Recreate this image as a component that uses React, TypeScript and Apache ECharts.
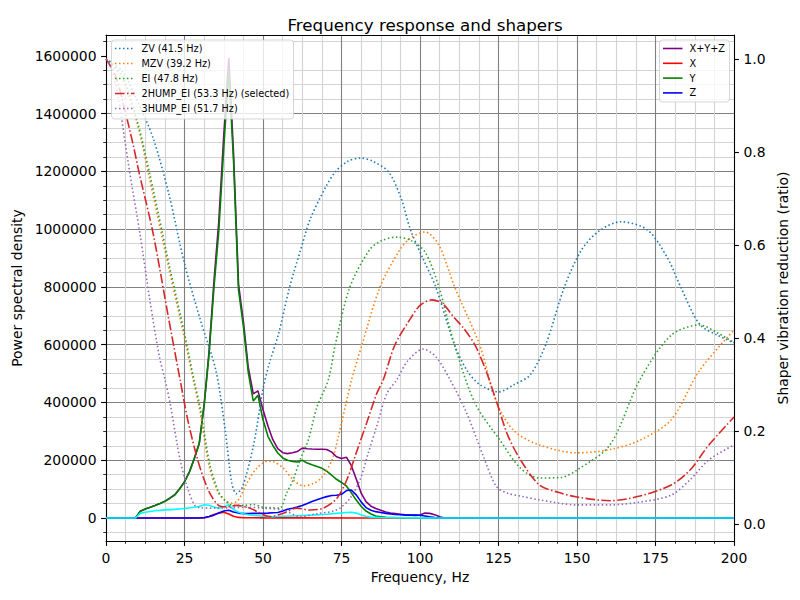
import { useEffect, useRef } from 'react';
import * as echarts from 'echarts';

type Pt = [number, number];

// Power spectral density per axis (frequency Hz, PSD)
const psdSum: Pt[] = [[0,0],[9.4,0],[10.9,23500],[12.5,31500],[14.1,37500],[15.6,43500],[17.2,50500],[18.8,58500],[20.3,68500],[21.9,80500],[23.4,100500],[25,125500],[26.6,160500],[28.1,205500],[29.7,258500],[31.3,397000],[32.8,574000],[34.4,822000],[35.9,1024000],[37.5,1324000],[39.1,1592600],[40.6,1267000],[42.2,810000],[43.8,676000],[45.3,522000],[46.9,430000],[48.4,440000],[50,375000],[51.6,318000],[53.1,272000],[54.7,240000],[56.3,226000],[57.8,223000],[59.4,226000],[60.9,230000],[62.5,242000],[64.1,240000],[65.6,239000],[67.2,238000],[68.8,238000],[70.3,237000],[71.9,228000],[73.4,212000],[75,206000],[76.6,210000],[78.1,182000],[79.7,135000],[81.3,85000],[82.8,57000],[84.4,41000],[85.9,33000],[87.5,27000],[89.1,21000],[90.6,17000],[92.2,15000],[93.8,13000],[95.3,11000],[96.9,10000],[98.4,9000],[100,10000],[101.6,17000],[103.1,16000],[104.7,11000],[106.3,4000],[107.8,0],[200,0]];
const psdX: Pt[] = [[0,0],[31.3,0],[32.8,4000],[34.4,12000],[35.9,17000],[37.5,20000],[39.1,14000],[40.6,6000],[42.2,2000],[43.8,1000],[50,500],[60,300],[80,200],[100,0],[200,0]];
const psdY: Pt[] = [[0,0],[9.4,0],[10.9,23000],[12.5,31000],[14.1,37000],[15.6,43000],[17.2,50000],[18.8,58000],[20.3,68000],[21.9,80000],[23.4,100000],[25,125000],[26.6,160000],[28.1,205000],[29.7,258000],[31.3,395000],[32.8,565000],[34.4,800000],[35.9,990000],[37.5,1280000],[39.1,1550000],[40.6,1240000],[42.2,790000],[43.8,660000],[45.3,505000],[46.9,405000],[48.4,425000],[50,340000],[51.6,282000],[53.1,252000],[54.7,225000],[56.3,208000],[57.8,200000],[59.4,196000],[60.9,194000],[62.5,200000],[64.1,190000],[65.6,184000],[67.2,178000],[68.8,172000],[70.3,162000],[71.9,148000],[73.4,134000],[75,123000],[76.6,110000],[78.1,88000],[79.7,62000],[81.3,40000],[82.8,24000],[84.4,14000],[85.9,7000],[87.5,4000],[89.1,2500],[92.2,1500],[100,800],[106.3,0],[200,0]];
const psdZ: Pt[] = [[0,0],[29.7,0],[31.3,2000],[32.8,5000],[34.4,10000],[35.9,17000],[37.5,24000],[39.1,27000],[40.6,21000],[42.2,17000],[43.8,15000],[45.3,15000],[46.9,16000],[48.4,16000],[50,16000],[51.6,17000],[53.1,18000],[54.7,19000],[56.3,24000],[57.8,30000],[59.4,34000],[60.9,38000],[62.5,43000],[64.1,50000],[65.6,57000],[67.2,63000],[68.8,69000],[70.3,74000],[71.9,78000],[73.4,79000],[75,82000],[76.6,95000],[78.1,97000],[79.7,80000],[81.3,55000],[82.8,36000],[84.4,27000],[85.9,22000],[87.5,19000],[89.1,16000],[90.6,14000],[92.2,12000],[93.8,11000],[95.3,10000],[96.9,10000],[98.4,10000],[100,9500],[101.6,7000],[103.1,4000],[104.7,1500],[106.3,0],[200,0]];
// PSD after the selected shaper
const psdShaped: Pt[] = [[0,0],[9.4,0],[10.9,16000],[12.5,20000],[15.6,25000],[18.8,28000],[21.9,30000],[25,33000],[28.1,37000],[29.7,40000],[31.3,46000],[32.8,44000],[34.4,38000],[35.9,34000],[37.5,38000],[39.1,46000],[40.6,30000],[42.2,20000],[43.8,15000],[45.3,11000],[46.9,9000],[48.4,8000],[50,6000],[51.6,4500],[53.1,4500],[56.3,6000],[60.9,8000],[65.6,10000],[70.3,13000],[73.4,16000],[76.6,19000],[78.1,20000],[79.7,17000],[81.3,10000],[82.8,6000],[84.4,3000],[87.5,1500],[92,800],[100,400],[106,0],[200,0]];

// Shaper vibration reduction ratios (frequency Hz, ratio)
const shaperZV: Pt[] = [[0,1.0],[5,0.975],[10,0.91],[15,0.83],[20,0.71],[25,0.56],[30,0.44],[35,0.33],[38,0.2],[40,0.09],[41.5,0.065],[43.5,0.08],[47,0.17],[50,0.29],[52,0.345],[55,0.41],[58.5,0.51],[62,0.59],[65,0.655],[70,0.725],[73,0.757],[77,0.78],[81,0.787],[85,0.78],[90,0.757],[94,0.7],[97,0.632],[101,0.57],[105,0.51],[111,0.385],[115,0.33],[119,0.3],[125,0.284],[130,0.3],[135,0.32],[140,0.385],[146,0.51],[151.5,0.59],[157,0.63],[164,0.65],[172.5,0.632],[179,0.57],[183,0.51],[189,0.43],[195,0.405],[200,0.39]];
const shaperMZV: Pt[] = [[0,1.0],[5,0.96],[10,0.86],[13.5,0.754],[17.6,0.625],[20,0.55],[25,0.4],[27.8,0.31],[30,0.24],[33,0.12],[35.8,0.067],[38,0.05],[40,0.045],[42,0.05],[44.8,0.087],[48,0.12],[51.5,0.135],[53.3,0.134],[56.5,0.12],[59.6,0.095],[62.8,0.082],[66,0.087],[68.7,0.1],[72,0.138],[74,0.188],[76.7,0.267],[78.2,0.31],[81.5,0.385],[87.3,0.51],[93.6,0.59],[97,0.615],[101.6,0.628],[106,0.6],[111,0.51],[119,0.385],[124.5,0.26],[130,0.2],[138,0.17],[150,0.153],[160.5,0.16],[170,0.18],[180,0.224],[189,0.33],[200,0.417]];
const shaperEI: Pt[] = [[0,1.0],[5,0.965],[10,0.865],[13.9,0.754],[18,0.625],[20,0.56],[25,0.41],[28,0.31],[30,0.25],[33,0.13],[35.8,0.07],[38,0.05],[40.5,0.04],[44,0.04],[47,0.042],[50,0.036],[53,0.035],[55.4,0.034],[57.5,0.066],[59.6,0.095],[61.8,0.138],[64.4,0.18],[67.1,0.25],[70.8,0.31],[73,0.385],[77.7,0.51],[84,0.59],[88,0.61],[92.7,0.617],[97,0.61],[101.6,0.585],[106,0.51],[111,0.385],[117.5,0.26],[125.5,0.18],[132,0.12],[138,0.099],[145,0.1],[150,0.116],[160.5,0.17],[170,0.31],[180,0.406],[189,0.428],[195,0.41],[200,0.39]];
const shaper2HumpEI: Pt[] = [[0,1.0],[3,0.965],[6,0.89],[8.5,0.82],[10.6,0.754],[15,0.625],[20,0.44],[23.6,0.31],[26,0.225],[28.9,0.145],[31,0.1],[33.1,0.066],[35.8,0.04],[38.4,0.037],[41.6,0.04],[45.9,0.034],[48,0.027],[52.2,0.016],[56.5,0.023],[60.7,0.034],[65,0.03],[69.2,0.034],[73.5,0.055],[76.7,0.095],[79.8,0.155],[83,0.217],[86.2,0.28],[88.3,0.31],[92,0.385],[96.8,0.44],[100,0.47],[103.8,0.482],[107,0.475],[111,0.443],[114,0.42],[117.5,0.385],[121,0.33],[124.5,0.26],[128,0.19],[132,0.138],[138,0.084],[144,0.068],[150,0.058],[160.5,0.05],[170,0.06],[180,0.084],[186,0.116],[192,0.17],[200,0.23]];
const shaper3HumpEI: Pt[] = [[0,1.0],[2,0.975],[4,0.915],[6,0.825],[7.6,0.754],[10.8,0.625],[14,0.48],[17,0.36],[18.8,0.31],[20.4,0.26],[23.6,0.138],[26.2,0.073],[28.3,0.04],[30,0.035],[35,0.034],[40,0.035],[45,0.036],[50,0.034],[56.5,0.03],[61.8,0.016],[67,0.022],[72,0.027],[74.5,0.034],[77.7,0.055],[80.9,0.095],[83.5,0.152],[86.2,0.21],[89.4,0.28],[92.6,0.31],[96,0.35],[101,0.376],[105,0.36],[109.6,0.31],[114.9,0.238],[120.2,0.145],[124.4,0.08],[128,0.066],[132,0.06],[138,0.052],[150,0.041],[160.5,0.041],[170,0.047],[180,0.062],[186,0.095],[192,0.138],[200,0.17]];

const psdLabels = ['X+Y+Z', 'X', 'Y', 'Z'];
const shaperLabels = ['ZV (41.5 Hz)', 'MZV (39.2 Hz)', 'EI (47.8 Hz)', '2HUMP_EI (53.3 Hz) (selected)', '3HUMP_EI (51.7 Hz)'];
const psdTicks = [0, 200000, 400000, 600000, 800000, 1000000, 1200000, 1400000, 1600000];
const ratioTicks = [0, 0.2, 0.4, 0.6, 0.8, 1.0];

const FONT = 'DejaVu Sans';
const DOTTED = [1.5, 2.5];
const DASHDOT = [9.6, 2.4, 1.5, 2.4];

const psdSeries = [
  { name: psdLabels[0], data: psdSum, color: '#800080' },
  { name: psdLabels[1], data: psdX, color: '#ff0000' },
  { name: psdLabels[2], data: psdY, color: '#008000' },
  { name: psdLabels[3], data: psdZ, color: '#0000ff' },
];
const shaperSeries = [
  { name: shaperLabels[0], data: shaperZV, color: '#1f77b4', dash: DOTTED },
  { name: shaperLabels[1], data: shaperMZV, color: '#ff7f0e', dash: DOTTED },
  { name: shaperLabels[2], data: shaperEI, color: '#2ca02c', dash: DOTTED },
  { name: shaperLabels[3], data: shaper2HumpEI, color: '#d62728', dash: DASHDOT },
  { name: shaperLabels[4], data: shaper3HumpEI, color: '#9467bd', dash: DOTTED },
];

// Legend panel drawn as graphic elements: translucent box, line sample, label
function legendBox(x: number, y: number, w: number, h: number, entries: { name: string; color: string; dash?: number[] }[], step: number) {
  const els: any[] = [
    {
      type: 'rect', z: 100, silent: true,
      shape: { x, y, width: w, height: h, r: 3 },
      style: { fill: '#ffffff', stroke: '#cccccc', lineWidth: 1, opacity: 0.8 },
    },
  ];
  entries.forEach((e, i) => {
    const cy = y + 8.5 + i * step;
    els.push({
      type: 'line', z: 101, silent: true,
      shape: { x1: x + 3.5, y1: cy, x2: x + 23, y2: cy },
      style: { stroke: e.color, lineWidth: 1.6, lineDash: e.dash ?? null, lineCap: 'butt' },
    });
    els.push({
      type: 'text', z: 101, silent: true,
      x: x + 30,
      y: cy,
      style: { text: e.name, fontSize: 9.7, fontFamily: FONT, fill: '#000', verticalAlign: 'middle', align: 'left' },
    });
  });
  return els;
}

export default function App() {
  const ref = useRef<HTMLDivElement>(null);
  useEffect(() => {
    document.body.style.margin = '0';
    const chart = echarts.init(ref.current!, null, { renderer: 'svg' });
    const axisText = { fontSize: 13.9, color: '#000', fontFamily: FONT };
    const blackLine = { color: '#000', width: 1.1 };
    const option: any = {
      animation: false,
      backgroundColor: '#fff',
      title: {
        text: 'Frequency response and shapers',
        left: 420,
        top: 11,
        textAlign: 'center',
        textStyle: { fontSize: 16.7, fontWeight: 'normal', color: '#000', fontFamily: FONT },
      },
      grid: { left: 106, right: 66, top: 35, bottom: 59, containLabel: false },
      xAxis: [
        {
          type: 'value', min: 0, max: 200, interval: 25, position: 'bottom',
          axisLine: { show: true, onZero: false, lineStyle: blackLine },
          axisTick: { show: true, length: 4.9, lineStyle: blackLine },
          minorTick: { show: true, splitNumber: 4, length: 2.8, lineStyle: { color: '#000', width: 0.8 } },
          axisLabel: { ...axisText, margin: 9.5 },
          splitLine: { show: true, showMinLine: false, showMaxLine: false, lineStyle: { color: '#808080', width: 1.1 } },
          minorSplitLine: { show: true, lineStyle: { color: '#d3d3d3', width: 1.1 } },
          name: 'Frequency, Hz', nameLocation: 'middle', nameGap: 29, nameTextStyle: axisText,
        },
        {
          type: 'value', min: 0, max: 200, position: 'top',
          axisLine: { show: true, onZero: false, lineStyle: blackLine },
          axisTick: { show: false }, axisLabel: { show: false }, splitLine: { show: false },
        },
      ],
      yAxis: [
        {
          type: 'value', min: -79630, max: 1672230, minInterval: 200000, maxInterval: 200000, position: 'left',
          axisLine: { show: true, onZero: false, lineStyle: blackLine },
          axisTick: { show: true, length: 4.9, lineStyle: blackLine, customValues: psdTicks },
          minorTick: { show: true, splitNumber: 4, length: 2.8, lineStyle: { color: '#000', width: 0.8 } },
          axisLabel: { ...axisText, margin: 9.5, customValues: psdTicks, formatter: (v: number) => String(Math.round(v)) },
          splitLine: { show: true, showMinLine: false, showMaxLine: false, lineStyle: { color: '#808080', width: 1.1 } },
          minorSplitLine: { show: true, lineStyle: { color: '#d3d3d3', width: 1.1 } },
          name: 'Power spectral density', nameLocation: 'middle', nameGap: 76, nameRotate: 90, nameTextStyle: axisText,
        },
        {
          type: 'value', min: -0.0366, max: 1.0516, minInterval: 0.2, maxInterval: 0.2, position: 'right',
          axisLine: { show: true, onZero: false, lineStyle: blackLine },
          axisTick: { show: true, length: 4.9, lineStyle: blackLine, customValues: ratioTicks },
          axisLabel: { ...axisText, margin: 9.5, customValues: ratioTicks, formatter: (v: number) => v.toFixed(1) },
          splitLine: { show: false },
          name: 'Shaper vibration reduction (ratio)', nameLocation: 'middle', nameGap: 30, nameRotate: 90, nameTextStyle: axisText,
        },
      ],
      series: [
        ...psdSeries.map((s) => ({
          type: 'line', name: s.name, data: s.data, xAxisIndex: 0, yAxisIndex: 0, z: 2,
          showSymbol: false, symbol: 'none', silent: true,
          lineStyle: { color: s.color, width: 1.6 },
        })),
        {
          type: 'line', name: 'shaped', data: psdShaped, xAxisIndex: 0, yAxisIndex: 0, z: 2,
          showSymbol: false, symbol: 'none', silent: true,
          lineStyle: { color: '#00ffff', width: 1.6 },
        },
        ...shaperSeries.map((s) => ({
          type: 'line', name: s.name, data: s.data, xAxisIndex: 0, yAxisIndex: 1, z: 3,
          showSymbol: false, symbol: 'none', silent: true, smooth: 0.3,
          lineStyle: { color: s.color, width: 1.6, type: s.dash, cap: 'butt' },
        })),
      ],
      graphic: {
        elements: [
          ...legendBox(111.5, 40, 182, 79, shaperSeries, 15),
          ...legendBox(659.5, 40, 70, 62, psdSeries, 14.8),
        ],
      },
    };
    chart.setOption(option);
    return () => chart.dispose();
  }, []);
  return <div ref={ref} style={{ width: 800, height: 600 }} />;
}
